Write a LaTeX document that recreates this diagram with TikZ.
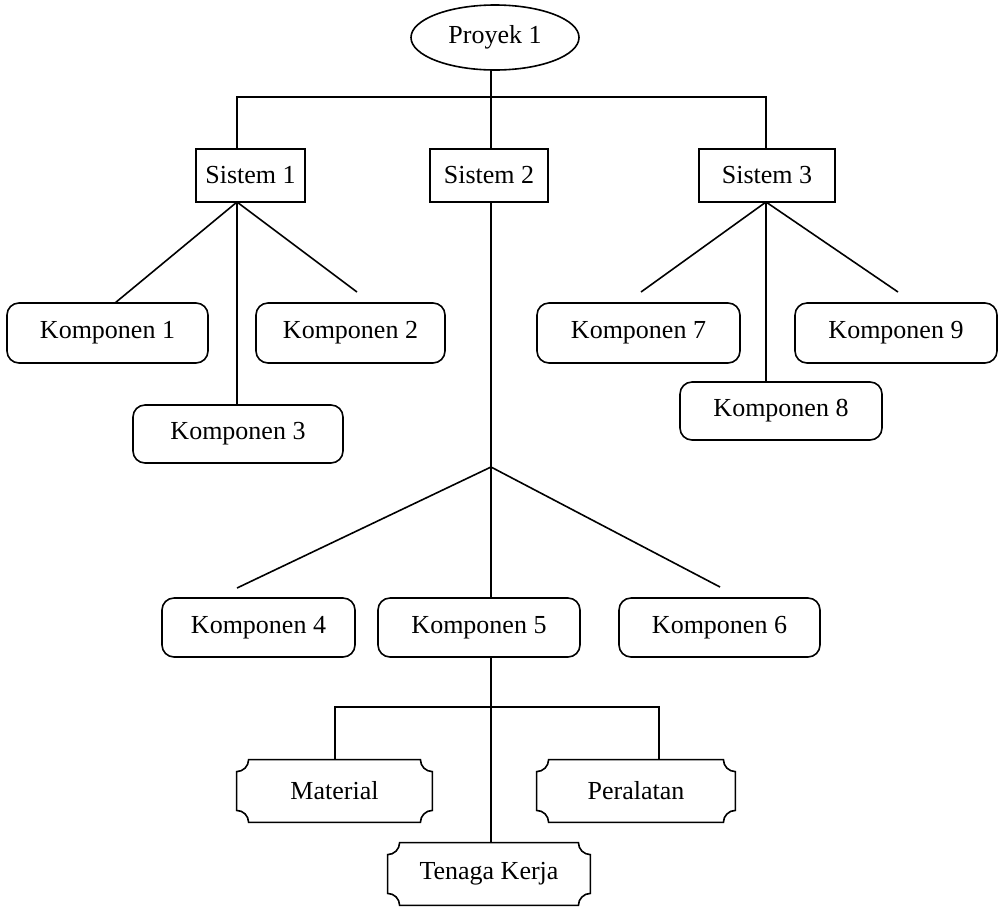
\documentclass[tikz,border=0pt]{standalone}
\usepackage{fontspec}
\setmainfont{Liberation Serif}
\usetikzlibrary{shapes.geometric}
\begin{document}
\begin{tikzpicture}[x=0.5pt,y=-0.5pt,
  every node/.style={font=\fontsize{13}{15}\selectfont, inner sep=0pt},
  conn/.style={line width=0.8pt},
  sysbox/.style={draw, line width=0.8pt, rectangle, minimum height=26.5pt},
  kompbox/.style={draw, line width=0.8pt, rectangle, rounded corners=6pt, minimum height=30pt},
  plaque/.style={rectangle, minimum height=31pt},
  projell/.style={draw, line width=0.8pt, ellipse, minimum width=84pt, minimum height=32.5pt}]
\useasboundingbox (0,0) rectangle (1004,911);

% nodes
\node[projell] (p) at (495,37.5) {Proyek 1};
\node[sysbox, minimum width=54.5pt] (s1) at (250.5,175.5) {Sistem 1};
\node[sysbox, minimum width=59pt] (s2) at (489,175.5) {Sistem 2};
\node[sysbox, minimum width=68pt] (s3) at (767,175.5) {Sistem 3};

\node[kompbox, minimum width=100.5pt] (k1) at (107.5,333) {Komponen 1};
\node[kompbox, minimum width=94.5pt] (k2) at (350.5,333) {Komponen 2};
\node[kompbox, minimum width=105pt, minimum height=29pt] (k3) at (238,434) {Komponen 3};
\node[kompbox, minimum width=101.5pt] (k7) at (638.5,333) {Komponen 7};
\node[kompbox, minimum width=101pt] (k9) at (896,333) {Komponen 9};
\node[kompbox, minimum width=101pt, minimum height=29pt] (k8) at (781,411) {Komponen 8};
\node[kompbox, minimum width=96.5pt, minimum height=29.5pt] (k4) at (258.5,627.5) {Komponen 4};
\node[kompbox, minimum width=101pt, minimum height=29.5pt] (k5) at (479,627.5) {Komponen 5};
\node[kompbox, minimum width=100.5pt, minimum height=29.5pt] (k6) at (719.5,627.5) {Komponen 6};

\node[plaque, minimum width=97.5pt] (mat) at (334.5,791) {Material};
\node[plaque, minimum width=99pt] (per) at (636,791) {Peralatan};
\node[plaque, minimum width=101pt] (ten) at (489,874) {Tenaga Kerja};

% plaque outlines (concave corners)
\foreach \n in {mat,per,ten}{
  \draw[line width=0.8pt]
    ([yshift=-6pt]\n.north west) arc[start angle=270,end angle=360,radius=6pt]
    -- ([xshift=-6pt]\n.north east) arc[start angle=180,end angle=270,radius=6pt]
    -- ([yshift=6pt]\n.south east) arc[start angle=90,end angle=180,radius=6pt]
    -- ([xshift=6pt]\n.south west) arc[start angle=0,end angle=90,radius=6pt]
    -- cycle;
}

% coordinates
\coordinate (bus) at (491,97);
\coordinate (bl) at (237,97);
\coordinate (br) at (766,97);
\coordinate (f1) at (237,202);
\coordinate (f3) at (766,202);
\coordinate (f2) at (491,202);
\coordinate (f2b) at (491,467);
\coordinate (e1) at (115,303);
\coordinate (e2) at (357,292);
\coordinate (e7) at (641,292);
\coordinate (e9) at (898,292);
\coordinate (e4) at (237,588);
\coordinate (e6) at (720,587);
\coordinate (b5) at (491,707);
\coordinate (bml) at (335,707);
\coordinate (bmr) at (659,707);

% connectors
\draw[conn] (p.south -| bus) -- (bus) -- (s2.north -| bus);
\draw[conn] (s1.north -| bl) -- (bl) -- (br) -- (s3.north -| br);

\draw[conn] (f1) -- (e1);
\draw[conn] (f1) -- (e2);
\draw[conn] (f1) -- (k3.north -| f1);

\draw[conn] (f3) -- (e7);
\draw[conn] (f3) -- (e9);
\draw[conn] (f3) -- (k8.north -| f3);

\draw[conn] (f2) -- (f2b);
\draw[conn] (f2b) -- (e4);
\draw[conn] (f2b) -- (e6);
\draw[conn] (f2b) -- (k5.north -| f2b);

\draw[conn] (k5.south -| f2b) -- (ten.north -| f2b);
\draw[conn] (mat.north -| bml) -- (bml) -- (bmr) -- (per.north -| bmr);
\end{tikzpicture}
\end{document}
